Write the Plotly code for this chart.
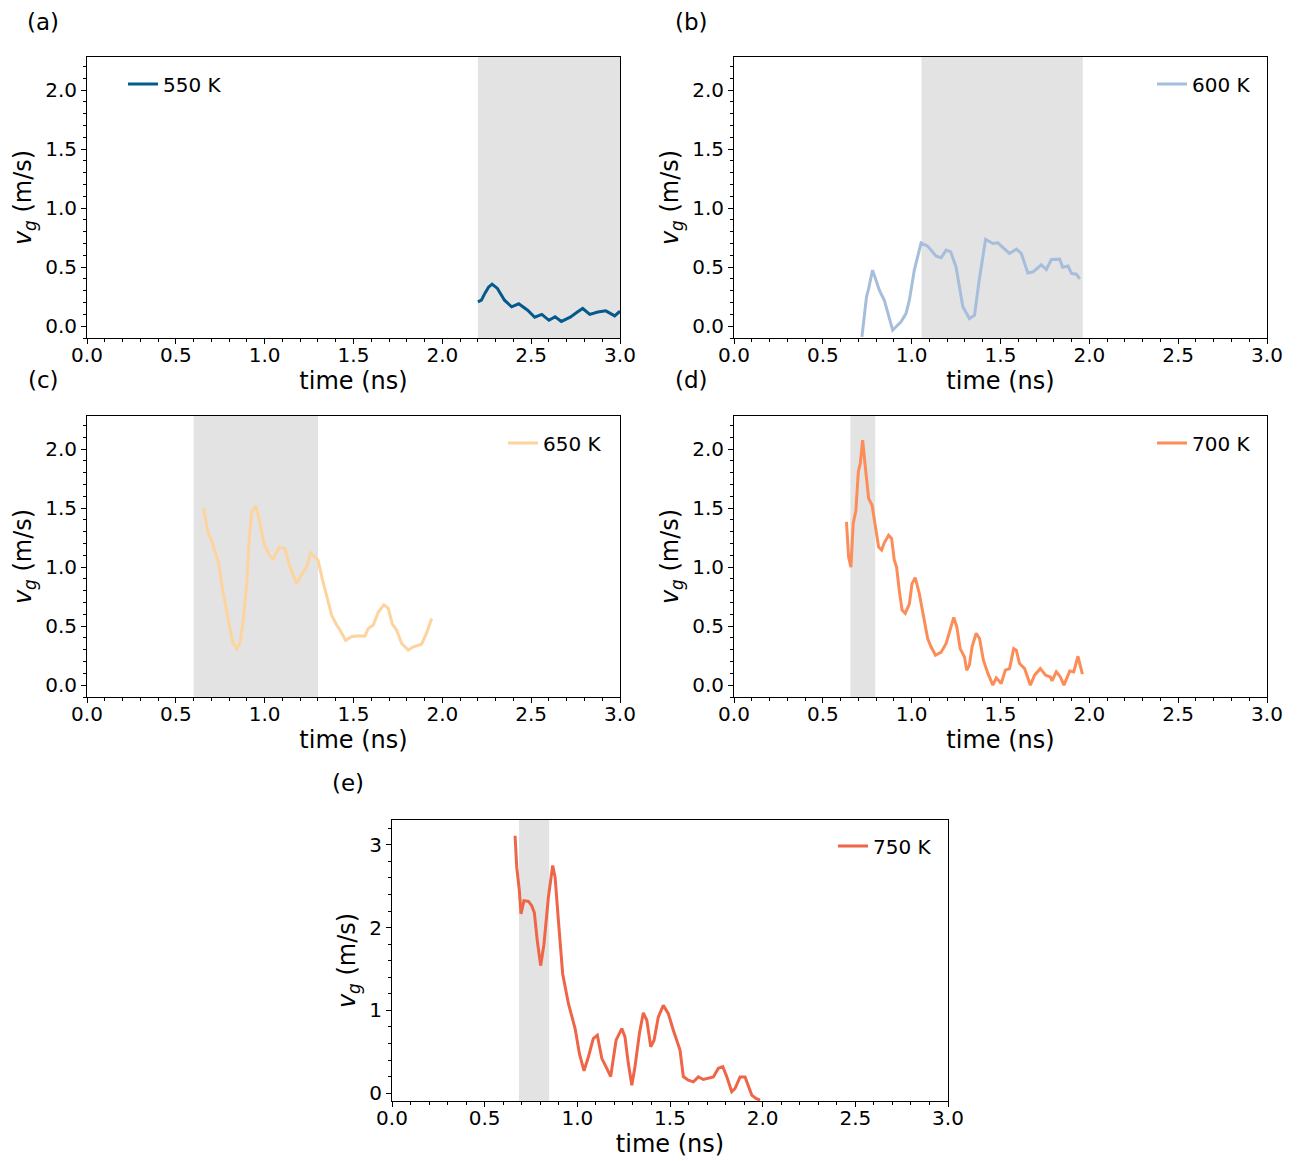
import plotly.graph_objects as go

# page has an 8px body margin, so the figure is sized/positioned to compensate
OFF = 8
W, H = 1297 - OFF, 1161 - OFF

temps = ["550 K", "600 K", "650 K", "700 K", "750 K"]
panel_labels = ["(a)", "(b)", "(c)", "(d)", "(e)"]
colors = ["#045a8d", "#a6bddb", "#fdd49e", "#fc8d59", "#ef6548"]

# shaded time windows (ns)
shade_start = [2.20, 1.055, 0.60, 0.655, 0.685]
shade_end = [3.00, 1.963, 1.30, 0.795, 0.848]

t_550 = [2.20, 2.22, 2.24, 2.26, 2.28, 2.31, 2.35, 2.39, 2.43, 2.46, 2.48, 2.52, 2.56, 2.60,
         2.635, 2.67, 2.72, 2.76, 2.79, 2.83, 2.875, 2.92, 2.97, 3.0]
v_550 = [0.206, 0.22, 0.28, 0.33, 0.356, 0.32, 0.22, 0.164, 0.19, 0.16, 0.135, 0.076, 0.10, 0.05,
         0.08, 0.04, 0.076, 0.12, 0.15, 0.10, 0.12, 0.13, 0.087, 0.127]

t_600 = [0.72, 0.746, 0.758, 0.78, 0.818, 0.846, 0.893, 0.94, 0.968, 0.987, 1.015, 1.053, 1.09,
         1.138, 1.166, 1.194, 1.22, 1.25, 1.288, 1.325, 1.354, 1.38, 1.416, 1.457, 1.485, 1.513,
         1.55, 1.59, 1.617, 1.654, 1.683, 1.73, 1.758, 1.786, 1.833, 1.85, 1.88, 1.9, 1.927, 1.946]
v_600 = [-0.09, 0.25, 0.32, 0.475, 0.305, 0.22, -0.034, 0.037, 0.107, 0.22, 0.475, 0.706, 0.678,
         0.593, 0.58, 0.644, 0.63, 0.50, 0.164, 0.065, 0.093, 0.39, 0.735, 0.70, 0.706, 0.667,
         0.616, 0.653, 0.616, 0.45, 0.46, 0.52, 0.48, 0.565, 0.568, 0.50, 0.51, 0.447, 0.44, 0.40]

t_650 = [0.655, 0.683, 0.70, 0.72, 0.739, 0.758, 0.777, 0.795, 0.82, 0.842, 0.861, 0.88, 0.899,
         0.913, 0.927, 0.951, 0.974, 0.996, 1.026, 1.049, 1.082, 1.114, 1.142, 1.18, 1.217, 1.236,
         1.259, 1.283, 1.30, 1.326, 1.349, 1.377, 1.405, 1.424, 1.456, 1.489, 1.527, 1.564, 1.583,
         1.611, 1.64, 1.671, 1.696, 1.718, 1.743, 1.771, 1.808, 1.837, 1.883, 1.911, 1.94]
v_650 = [1.50, 1.285, 1.23, 1.13, 1.045, 0.86, 0.69, 0.55, 0.367, 0.31, 0.353, 0.55, 0.86,
         1.23, 1.47, 1.517, 1.37, 1.20, 1.10, 1.07, 1.167, 1.158, 1.00, 0.86, 0.96, 1.00,
         1.12, 1.087, 1.06, 0.89, 0.75, 0.593, 0.51, 0.466, 0.38, 0.41, 0.418, 0.415, 0.48,
         0.51, 0.62, 0.68, 0.65, 0.52, 0.466, 0.353, 0.297, 0.325, 0.347, 0.44, 0.565]

t_700 = [0.633, 0.645, 0.658, 0.671, 0.686, 0.70, 0.711, 0.724, 0.739, 0.758, 0.777, 0.80, 0.814,
         0.831, 0.846, 0.87, 0.887, 0.902, 0.915, 0.93, 0.946, 0.964, 0.987, 1.002, 1.02, 1.043,
         1.072, 1.09, 1.109, 1.134, 1.166, 1.194, 1.216, 1.237, 1.254, 1.273, 1.297, 1.31, 1.325,
         1.34, 1.363, 1.382, 1.404, 1.429, 1.457, 1.476, 1.504, 1.527, 1.551, 1.574, 1.589, 1.607,
         1.636, 1.668, 1.692, 1.724, 1.754, 1.78, 1.79, 1.814, 1.837, 1.857, 1.89, 1.912, 1.936,
         1.961]
v_700 = [1.384, 1.087, 1.00, 1.37, 1.48, 1.81, 1.88, 2.076, 1.85, 1.58, 1.525, 1.31, 1.17,
         1.144, 1.206, 1.27, 1.243, 1.06, 1.00, 0.805, 0.636, 0.608, 0.69, 0.86, 0.91, 0.777,
         0.55, 0.395, 0.325, 0.254, 0.28, 0.353, 0.466, 0.574, 0.494, 0.31, 0.24, 0.127, 0.17,
         0.325, 0.44, 0.395, 0.21, 0.10, 0.0, 0.062, 0.014, 0.127, 0.14, 0.31, 0.297, 0.184,
         0.14, 0.0, 0.085, 0.14, 0.085, 0.07, 0.036, 0.113, 0.07, 0.0, 0.121, 0.113, 0.245,
         0.093]

t_750 = [0.664, 0.673, 0.687, 0.696, 0.712, 0.736, 0.754, 0.768, 0.784, 0.802, 0.82, 0.844, 0.867,
         0.88, 0.898, 0.921, 0.952, 0.988, 1.011, 1.036, 1.06, 1.086, 1.108, 1.132, 1.159, 1.18,
         1.209, 1.24, 1.257, 1.275, 1.294, 1.311, 1.335, 1.356, 1.375, 1.396, 1.414, 1.437, 1.464,
         1.491, 1.518, 1.554, 1.572, 1.599, 1.626, 1.653, 1.68, 1.707, 1.734, 1.761, 1.785, 1.806,
         1.833, 1.851, 1.878, 1.905, 1.923, 1.941, 1.964, 1.986]
v_750 = [3.11, 2.73, 2.45, 2.165, 2.325, 2.317, 2.265, 2.18, 1.84, 1.54, 1.80, 2.37, 2.75,
         2.61, 2.08, 1.44, 1.08, 0.78, 0.48, 0.27, 0.44, 0.66, 0.70, 0.42, 0.30, 0.20,
         0.64, 0.78, 0.68, 0.36, 0.096, 0.32, 0.72, 0.97, 0.88, 0.56, 0.64, 0.92, 1.06,
         0.96, 0.76, 0.52, 0.20, 0.157, 0.137, 0.196, 0.165, 0.177, 0.196, 0.30, 0.32, 0.20,
         0.016, 0.056, 0.196, 0.196, 0.076, -0.024, -0.064, -0.084]

series_t = [t_550, t_600, t_650, t_700, t_750]
series_v = [v_550, v_600, v_650, v_700, v_750]

x_ticks = [0.0, 0.5, 1.0, 1.5, 2.0, 2.5, 3.0]
y_ticks_ad = [0.0, 0.5, 1.0, 1.5, 2.0]
y_ticks_e = [0, 1, 2, 3]

# layout geometry (page pixels): left, right, top, bottom of each axes box
boxes = [(87, 620, 57, 338), (734, 1267, 57, 338), (87, 620, 416, 697),
         (734, 1267, 416, 697), (392, 948, 820, 1101)]
y_ranges = [[-0.1, 2.28]] * 4 + [[-0.095, 3.30]]
# panel label: centre x, top y (page px)
label_pos = [(43, 8), (692, 8), (43, 366), (692, 366), (348, 769)]
# legend anchors (page px) and side
legend_pos = [(123, 84, "left"), (1256, 84, "right"), (503, 443, "left"),
              (1256, 443, "right"), (937, 846, "right")]


def fx(px):
    return (px - OFF) / W


def fy(py):
    return 1 - (py - OFF) / H


FONT = "DejaVu Sans"
fig = go.Figure()
layout = dict(width=W, height=H, margin=dict(l=0, r=0, t=0, b=0, autoexpand=False),
              paper_bgcolor="white", plot_bgcolor="white", showlegend=True,
              font=dict(family=FONT, size=20, color="black"), shapes=[], annotations=[])

for i in range(5):
    sfx = "" if i == 0 else str(i + 1)
    l, r, top, bot = boxes[i]
    leg = "legend" if i == 0 else f"legend{i + 1}"
    fig.add_trace(go.Scatter(x=series_t[i], y=series_v[i], mode="lines", name=temps[i],
                             line=dict(color=colors[i], width=3), showlegend=True,
                             xaxis="x" + sfx, yaxis="y" + sfx, legend=leg))
    yt = y_ticks_e if i == 4 else y_ticks_ad
    layout["xaxis" + sfx] = dict(
        domain=[fx(l), fx(r)], anchor="y" + sfx, range=[0, 3], automargin=False,
        tickvals=x_ticks, tickformat=".1f", ticks="outside", ticklen=5, tickwidth=1,
        tickcolor="black", showline=True, linecolor="black", linewidth=1, mirror=True,
        showgrid=False, zeroline=False, tickfont=dict(size=20), ticklabelstandoff=-6,
        minor=dict(dtick=0.1, tick0=0, ticks="outside", ticklen=3, tickcolor="black", showgrid=False),
        title=dict(text="time (ns)", font=dict(size=24), standoff=2))
    layout["yaxis" + sfx] = dict(
        domain=[fy(bot), fy(top)], anchor="x" + sfx, range=y_ranges[i], automargin=False,
        tickvals=yt, tickformat="d" if i == 4 else ".1f", ticks="outside", ticklen=5,
        tickwidth=1, tickcolor="black", showline=True, linecolor="black", linewidth=1,
        mirror=True, showgrid=False, zeroline=False, tickfont=dict(size=20),
        minor=dict(dtick=0.2 if i == 4 else 0.1, tick0=0, ticks="outside", ticklen=3,
                   tickcolor="black", showgrid=False),
        title=dict(text="<i>v</i><sub><i>g</i></sub> (m/s)", font=dict(size=24), standoff=6))
    layout["shapes"].append(dict(type="rect", xref="x" + sfx, yref=f"y{sfx} domain",
                                 x0=shade_start[i], x1=shade_end[i], y0=0, y1=1,
                                 fillcolor="#e3e3e3", line=dict(width=0), layer="below"))
    lx, ly, side = legend_pos[i]
    layout[leg] = dict(x=fx(lx), y=fy(ly), xanchor=side, yanchor="middle", visible=True,
                       bgcolor="rgba(0,0,0,0)", borderwidth=0, font=dict(size=20, family=FONT))
    px, py = label_pos[i]
    layout["annotations"].append(dict(text=panel_labels[i], x=fx(px), y=fy(py),
                                      xref="paper", yref="paper", showarrow=False,
                                      borderpad=0, xanchor="center", yanchor="top",
                                      font=dict(size=23)))

fig.update_layout(**layout)
fig.write_html("out.html")
